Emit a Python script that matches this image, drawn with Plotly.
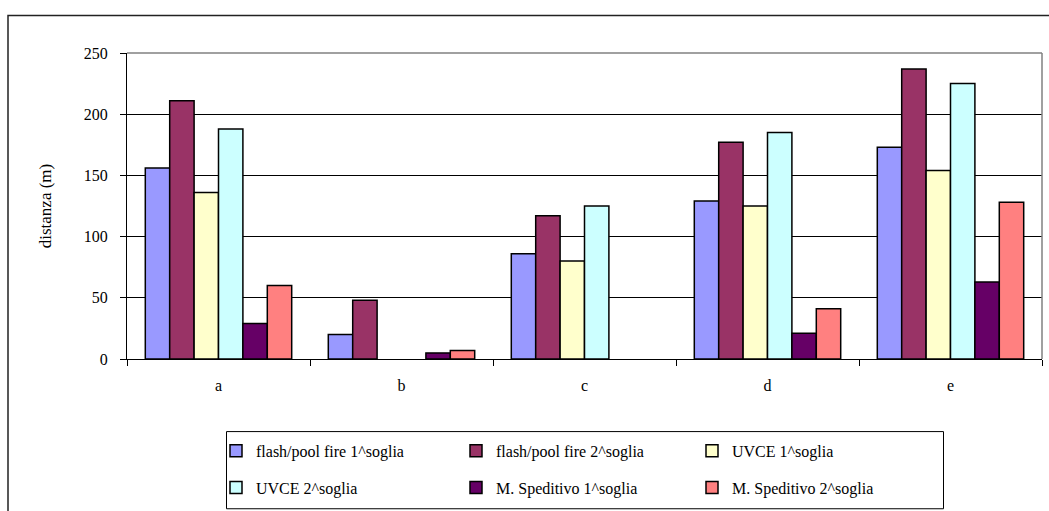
import plotly.graph_objects as go

# Scenario labels on the x axis
categories = ["a", "b", "c", "d", "e"]

# Damage distances (m) per scenario
flash_pool_1 = [156, 20, 86, 129, 173]
flash_pool_2 = [211, 48, 117, 177, 237]
uvce_1 = [136, 0, 80, 125, 154]
uvce_2 = [188, 0, 125, 185, 225]
speditivo_1 = [29, 5, 0, 21, 63]
speditivo_2 = [60, 7, 0, 41, 128]

y_ticks = [0, 50, 100, 150, 200, 250]

series = [
    ("flash/pool fire 1^soglia", flash_pool_1, "#9999FF", "legend"),
    ("flash/pool fire 2^soglia", flash_pool_2, "#993366", "legend2"),
    ("UVCE 1^soglia", uvce_1, "#FFFFCC", "legend3"),
    ("UVCE 2^soglia", uvce_2, "#CCFFFF", "legend"),
    ("M. Speditivo 1^soglia", speditivo_1, "#660066", "legend2"),
    ("M. Speditivo 2^soglia", speditivo_2, "#FF8080", "legend3"),
]

FONT = "Liberation Serif"

fig = go.Figure()
for i, (name, vals, color, leg) in enumerate(series):
    # empty bars get no outline so nothing thickens the baseline
    widths = [1.5 if v > 0 else 0 for v in vals]
    fig.add_trace(go.Bar(
        x=categories, y=vals, name=name,
        marker=dict(color=color, line=dict(color="black", width=widths)),
        legend=leg, legendgroup=f"g{i}",
    ))

# Plot area: x 127..1042 px, y 52.5..359 px
W, H = 1049, 511
L, R, T, B = 127, 7, 52.5, 152
pw = W - L - R
ph = H - T - B


def px_x(x):
    return (x - L) / pw


def px_y(y):
    return (H - B - y) / ph


legend_common = dict(
    orientation="v", xanchor="left", yanchor="top",
    bgcolor="rgba(0,0,0,0)", borderwidth=0,
    font=dict(family=FONT, size=16, color="black"),
    itemwidth=30, tracegroupgap=13, traceorder="grouped",
)

fig.update_layout(
    width=W, height=H,
    margin=dict(l=L, r=R, t=T, b=B, autoexpand=False),
    paper_bgcolor="white", plot_bgcolor="white",
    barmode="group", bargap=0.2, bargroupgap=0,
    font=dict(family=FONT, size=16, color="black"),
    legend=dict(x=px_x(216), y=px_y(434), **legend_common),
    legend2=dict(x=px_x(456), y=px_y(434), **legend_common),
    legend3=dict(x=px_x(692), y=px_y(434), **legend_common),
    xaxis=dict(
        showline=True, linecolor="black", linewidth=1,
        ticks="outside", ticklen=6, tickcolor="black", tickwidth=1,
        tickson="boundaries", showgrid=False,
        ticklabelstandoff=12,
        tickfont=dict(family=FONT, size=16, color="black"),
    ),
    yaxis=dict(
        range=[0, 250], tickvals=y_ticks,
        showline=True, linecolor="black", linewidth=1,
        ticks="outside", ticklen=6, tickcolor="black", tickwidth=1,
        showgrid=True, gridcolor="black", gridwidth=1,
        zeroline=False, ticklabelstandoff=9,
        tickfont=dict(family=FONT, size=16, color="black"),
        title=dict(text="distanza (m)", standoff=27,
                   font=dict(family=FONT, size=17, color="black")),
    ),
    shapes=[
        # plot-area border on top and right
        dict(type="line", xref="paper", yref="paper", x0=0, x1=1, y0=1, y1=1,
             line=dict(color="#808080", width=1.5), layer="above"),
        dict(type="line", xref="paper", yref="paper", x0=1, x1=1, y0=0, y1=1,
             line=dict(color="#808080", width=1.5), layer="above"),
        # chart-area frame
        dict(type="rect", xref="paper", yref="paper",
             x0=px_x(8), x1=px_x(1100), y0=px_y(15), y1=px_y(560),
             line=dict(color="#222222", width=1.5), layer="below"),
        # legend frame
        dict(type="rect", xref="paper", yref="paper",
             x0=px_x(226.5), x1=px_x(943.5), y0=px_y(431.7), y1=px_y(509),
             line=dict(color="black", width=1), layer="above"),
    ],
)

fig.write_html("out.html")
